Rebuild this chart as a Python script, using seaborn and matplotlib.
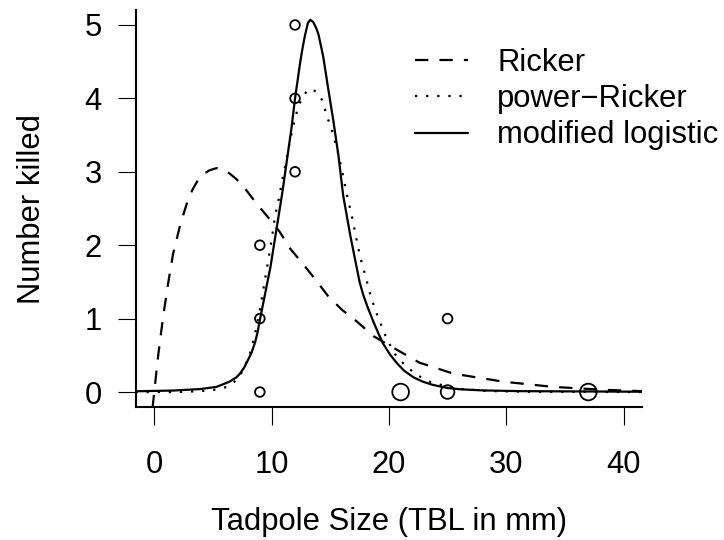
import numpy as np
import pandas as pd
import matplotlib
matplotlib.use("Agg")
import matplotlib.pyplot as plt
import seaborn as sns

# observed kills (overlapping points merged, n = number of overlapping obs)
tbl = [9, 9, 9, 12, 12, 12, 21, 25, 25, 37]
killed = [0, 1, 2, 3, 4, 5, 0, 0, 1, 0]
n_obs = [1, 1, 1, 1, 1, 1, 3, 2, 1, 3]

# fitted curves
ricker_x = [-0.15, 0, 0.15, 0.35, 0.75, 1.2, 1.6, 2.2, 2.6, 2.9, 3.3, 3.7, 4.2, 4.7,
            5.3, 5.85, 6.4, 7.0, 7.6, 8.7, 9.7, 10.7, 11.6, 12.7, 13.7, 14.8, 16.0,
            17.2, 18.7, 20.2, 22.6, 25.5, 29.8, 34.0, 38.3, 42.0]
ricker_y = [-0.22, 0, 0.23, 0.52, 1.02, 1.5, 1.88, 2.27, 2.48, 2.63, 2.77, 2.88, 2.97,
            3.02, 3.05, 3.03, 2.98, 2.90, 2.80, 2.57, 2.38, 2.18, 1.95, 1.74, 1.54,
            1.31, 1.12, 0.97, 0.76, 0.62, 0.40, 0.25, 0.14, 0.07, 0.03, 0.01]

powricker_x = [-1.6, 1.9, 3.0, 4.6, 5.5, 6.2, 7.0, 7.6, 8.2, 8.6, 9.0, 9.3, 9.7, 10.0,
               10.3, 10.6, 10.9, 11.1, 11.6, 12.0, 12.3, 12.6, 13.05, 13.4, 13.8, 14.3,
               14.8, 15.1, 15.6, 16.0, 16.4, 16.8, 17.25, 17.55, 18.0, 18.5, 19.0,
               19.4, 19.8, 20.5, 21.4, 22.4, 23.5, 25.5, 28.3, 32.0, 41.6]
powricker_y = [0.0, 0.0, 0.005, 0.02, 0.04, 0.07, 0.16, 0.30, 0.55, 0.80, 1.12, 1.40,
               1.78, 2.07, 2.40, 2.62, 2.88, 3.03, 3.45, 3.73, 3.90, 4.0, 4.11, 4.13,
               4.09, 3.98, 3.72, 3.59, 3.30, 3.02, 2.70, 2.43, 2.07, 1.84, 1.58, 1.28,
               1.05, 0.89, 0.73, 0.52, 0.36, 0.23, 0.14, 0.05, 0.014, 0.003, 0.0]

logist_x = [-1.6, 1.6, 3.9, 5.3, 6.4, 7.0, 7.3, 7.65, 8.0, 8.3, 8.6, 8.8, 9.0, 9.4,
            9.9, 10.4, 10.9, 11.3, 11.7, 12.0, 12.4, 12.6, 12.85, 13.1, 13.3, 13.55,
            13.8, 14.0, 14.4, 14.8, 15.25, 15.7, 16.1, 16.7, 17.25, 17.5, 17.8, 18.2,
            18.7, 19.1, 19.5, 20.1, 20.7, 21.3, 22.1, 22.9, 23.8, 25.0, 26.1, 28.0,
            31.2, 41.6]
logist_y = [0.01, 0.02, 0.04, 0.07, 0.14, 0.20, 0.25, 0.33, 0.44, 0.54, 0.68, 0.81,
            0.98, 1.30, 1.70, 2.20, 2.70, 3.15, 3.60, 4.0, 4.45, 4.65, 4.86, 5.03,
            5.07, 5.04, 4.96, 4.87, 4.57, 4.16, 3.71, 3.22, 2.68, 2.14, 1.70, 1.50,
            1.33, 1.15, 0.95, 0.80, 0.66, 0.51, 0.39, 0.29, 0.20, 0.14, 0.095, 0.055,
            0.037, 0.022, 0.012, 0.004]

model_names = ["Ricker", "power\u2212Ricker", "modified logistic"]

curves = pd.concat([
    pd.DataFrame({"x": ricker_x, "y": ricker_y, "model": model_names[0]}),
    pd.DataFrame({"x": powricker_x, "y": powricker_y, "model": model_names[1]}),
    pd.DataFrame({"x": logist_x, "y": logist_y, "model": model_names[2]}),
], ignore_index=True)
points = pd.DataFrame({"tbl": tbl, "killed": killed, "n": n_obs})

sns.set_style("ticks")
plt.rcParams["font.family"] = ["Liberation Sans", "DejaVu Sans"]
plt.rcParams.update({"text.color": "black", "axes.labelcolor": "black",
                     "xtick.color": "black", "ytick.color": "black",
                     "axes.edgecolor": "black"})
fs = 22.3

fig = plt.figure(figsize=(7.24, 5.4), dpi=100)
ax = fig.add_axes([135.5 / 724, 1 - 406.7 / 540, 506.8 / 724, 396.4 / 540])

sns.scatterplot(data=points, x="tbl", y="killed", size="n", sizes=(48, 144),
                size_norm=(1, 3), legend=False, ax=ax, zorder=3)
pts = ax.collections[0]
pts.set_facecolor("none")
pts.set_edgecolor("black")
pts.set_linewidth(1.3)

sns.lineplot(data=curves, x="x", y="y", style="model", style_order=model_names,
             dashes={model_names[0]: (6, 5), model_names[1]: (1, 4),
                     model_names[2]: ""},
             color="black", linewidth=1.6, estimator=None, sort=False, ax=ax)

ax.set_xlim(-1.6, 41.6)
ax.set_ylim(-0.2, 5.2)
ax.set_xticks([0, 10, 20, 30, 40])
ax.set_yticks([0, 1, 2, 3, 4, 5])
sns.despine(ax=ax)
for side in ["left", "bottom"]:
    ax.spines[side].set_linewidth(1.5)
ax.tick_params(axis="both", direction="out", length=13.3, width=0.8,
               labelsize=fs, color="black", labelcolor="black")
ax.tick_params(axis="x", pad=18)
ax.tick_params(axis="y", pad=11)
ax.set_xlabel("Tadpole Size (TBL in mm)", fontsize=fs, labelpad=19)
ax.set_ylabel("Number killed", fontsize=fs, labelpad=27)

handles, labels = ax.get_legend_handles_labels()
ax.legend(handles, labels, loc="upper left", frameon=False, fontsize=fs,
          bbox_to_anchor=(415 / 724, 1 - 48 / 540), bbox_transform=fig.transFigure,
          borderaxespad=0, borderpad=0, handlelength=1.7, handletextpad=0.95,
          labelspacing=0.2)

fig.savefig("out.png", dpi=100)
